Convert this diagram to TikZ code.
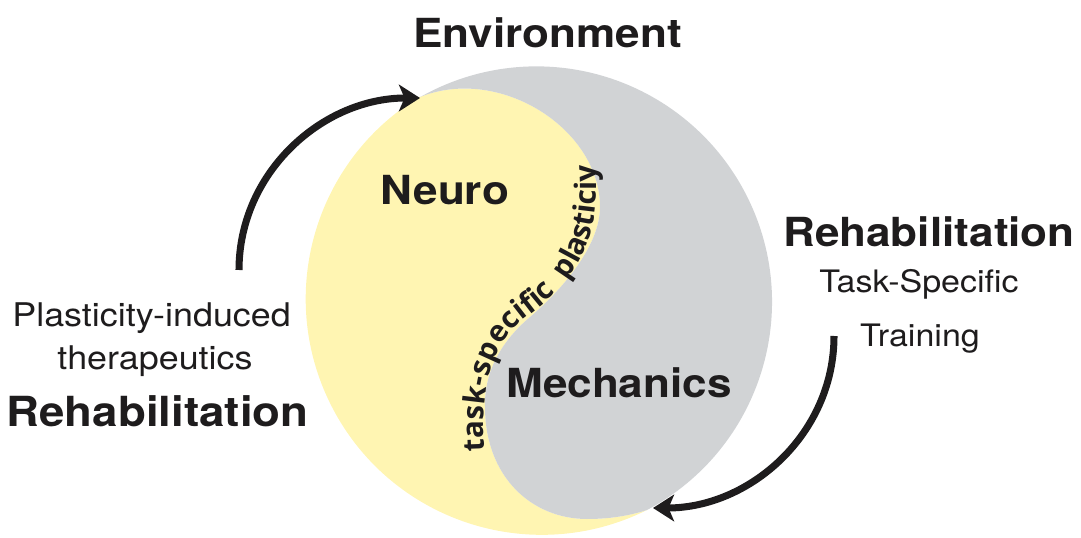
\documentclass[tikz,border=0pt]{standalone}
\usepackage{fontspec}
\setmainfont[FakeStretch=1.1]{TeX Gyre Heros}
\newfontfamily\curvefont{Open Sans}
\usepackage{tikz}
\usetikzlibrary{
    arrows.meta,
    decorations.text
}
\usepackage{xcolor}
\definecolor{neuroyellow}{RGB}{255,245,178}
\definecolor{mechgrey}{RGB}{209,211,213}
\definecolor{inkblack}{RGB}{30,28,29}

\begin{document}
\begin{tikzpicture}[
        >={Stealth[length=15pt,width=19pt,inset=4pt]},
        bigtext/.style={
            font=\fontsize{28.5}{30}\selectfont\bfseries,
            text=inkblack,
            anchor=base,
            inner sep=0pt
        },
        smalltext/.style={
            font=\fontsize{22}{24}\selectfont,
            text=inkblack,
            anchor=base,
            inner sep=0pt
        },
        cyclearrow/.style={
            ->,
            line width=5pt,
            draw=inkblack
        }
    ]

    \useasboundingbox (0,0) rectangle (27.025,13.425);

    % the two halves share the S line
    \fill[neuroyellow] (10.5,11.0) .. controls (12.5,11.8) and (15.0,10.2) .. (15.0,8.25)
        .. controls (15.0,7.2) and (13.9,6.05) .. (13.25,5.5)
        .. controls (12.6,4.95) and (12.1,4.2) .. (12.125,3.25)
        .. controls (12.125,1.5) and (13.3,0.45) .. (14.675,0.45)
        .. controls (15.2,0.45) and (15.7,0.52) .. (16.175,0.675)
        arc[start angle=-63.5, end angle=-238.9, radius=5.9] -- cycle;
    \fill[mechgrey] (10.5,11.0) .. controls (12.5,11.8) and (15.0,10.2) .. (15.0,8.25)
        .. controls (15.0,7.2) and (13.9,6.05) .. (13.25,5.5)
        .. controls (12.6,4.95) and (12.1,4.2) .. (12.125,3.25)
        .. controls (12.125,1.5) and (13.3,0.45) .. (14.675,0.45)
        .. controls (15.2,0.45) and (15.7,0.52) .. (16.175,0.675)
        arc[start angle=-62, end angle=119.6, radius=5.89] -- cycle;

    \path[
        decorate,
        decoration={
            text along path,
            text={|\curvefont\bfseries\fontsize{21}{21}\selectfont\color{inkblack}|task-specific{\kern0.3em} plasticiy},
            text align=center,
            raise=1.5pt
        }
    ] (12.15,2.35) .. controls (12.1,3.9) and (12.35,4.85) .. (13.25,5.5)
        .. controls (14.2,6.2) and (15.05,7.1) .. (14.95,9.1);

    \node[bigtext] (env) at (13.69,12.225) {Environment};
    \node[bigtext] (neuro) at (11.125,8.3) {Neuro};
    \node[bigtext] (mech) at (15.475,3.475) {Mechanics};

    \node[smalltext, font=\fontsize{23.2}{25}\selectfont] (plastind) at (3.79,5.25) {Plasticity-induced};
    \node[smalltext, font=\fontsize{23.2}{25}\selectfont] (therap) at (3.875,4.175) {therapeutics};
    \node[bigtext, font=\fontsize{29.5}{31}\selectfont\bfseries] (rehabL) at (3.94,2.75) {Rehabilitation};

    \node[bigtext] (rehabR) at (23.225,7.25) {Rehabilitation};
    \node[smalltext] (taskspec) at (22.975,6.1) {Task-Specific};
    \node[smalltext] (training) at (23.0,4.75) {Training};

    \coordinate (lefttail) at (5.975,6.675);
    \coordinate (lefttip) at (10.5,10.975);
    \coordinate (righttail) at (20.85,5.025);
    \coordinate (righttip) at (16.325,0.725);

    \draw[cyclearrow] (lefttail) to[out=90,in=180] (lefttip);
    \draw[cyclearrow] (righttail) to[out=-90,in=0] (righttip);

\end{tikzpicture}
\end{document}
